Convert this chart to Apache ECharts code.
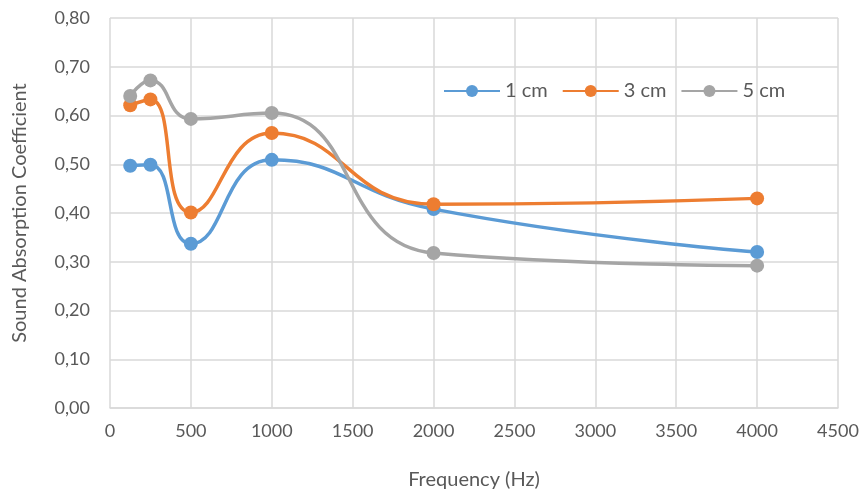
<!DOCTYPE html>
<html><head><meta charset="utf-8">
<script src="https://cdn.jsdelivr.net/npm/echarts@6/dist/echarts.min.js"></script>
<style>html,body{margin:0;padding:0;background:#fff}#c{width:865px;height:495px}</style>
</head><body><div id="c"></div>
<script>
const frequencies = [125, 250, 500, 1000, 2000, 4000];
const seriesNames = ['1 cm', '3 cm', '5 cm'];
const values1cm = [0.497, 0.499, 0.337, 0.509, 0.408, 0.320];
const values3cm = [0.621, 0.633, 0.401, 0.564, 0.418, 0.430];
const values5cm = [0.640, 0.672, 0.593, 0.605, 0.318, 0.292];
const colors = ['#5B9BD5', '#ED7D31', '#A5A5A5'];

const font = 'Lato, "Open Sans", sans-serif';
const allValues = [values1cm, values3cm, values5cm];
const chart = echarts.init(document.getElementById('c'));
chart.setOption({
  animation: false,
  color: colors,
  grid: { left: 110, right: 27, top: 18, bottom: 84, containLabel: false },
  legend: {
    top: 76, left: 438, itemGap: 14, itemWidth: 56, itemHeight: 15,
    textStyle: { fontFamily: font, fontSize: 20, color: '#595959' },
    data: seriesNames
  },
  xAxis: {
    type: 'value', min: 0, max: 4500, interval: 500,
    name: 'Frequency (Hz)', nameLocation: 'middle', nameGap: 62,
    nameTextStyle: { fontFamily: font, fontSize: 20, color: '#595959' },
    axisLine: { show: true, lineStyle: { color: '#D9D9D9', width: 1.5 } },
    axisTick: { show: false },
    axisLabel: { fontFamily: font, fontSize: 18, color: '#595959', margin: 14,
      formatter: v => String(v) },
    splitLine: { show: true, lineStyle: { color: '#D9D9D9', width: 1.5 } }
  },
  yAxis: {
    type: 'value', min: 0, max: 0.8, interval: 0.1,
    name: 'Sound Absorption Coefficient', nameLocation: 'middle', nameGap: 80,
    nameTextStyle: { fontFamily: font, fontSize: 20, color: '#595959' },
    axisLine: { show: false },
    axisTick: { show: false },
    axisLabel: { fontFamily: font, fontSize: 18, color: '#595959', margin: 20,
      formatter: v => v.toFixed(2).replace('.', ',') },
    splitLine: { show: true, lineStyle: { color: '#D9D9D9', width: 1.5 } }
  },
  series: seriesNames.map((name, i) => ({
    name: name, type: 'line', smooth: 0.5,
    symbol: 'circle', symbolSize: 14,
    lineStyle: { width: 3.5, color: colors[i] },
    itemStyle: { color: colors[i] },
    data: frequencies.map((f, j) => [f, allValues[i][j]])
  }))
});
</script></body></html>
